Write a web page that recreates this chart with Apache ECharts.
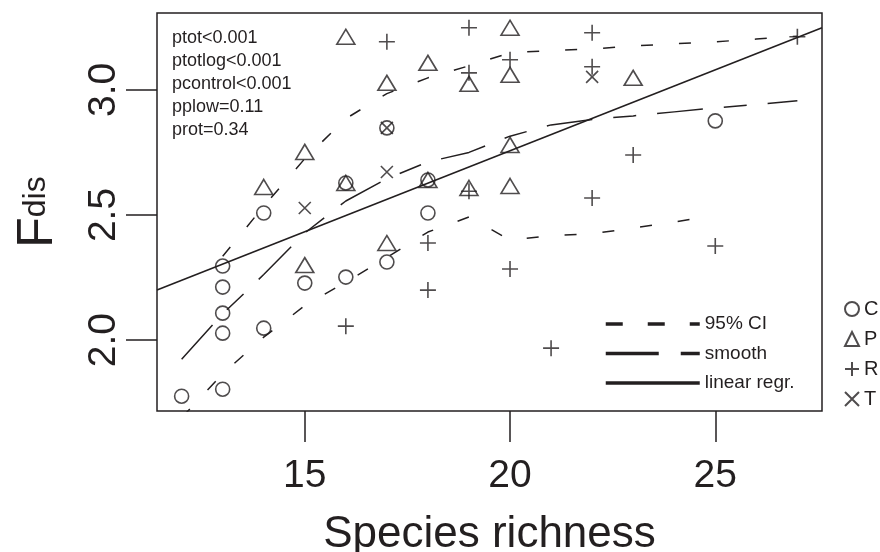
<!DOCTYPE html>
<html><head><meta charset="utf-8">
<script src="https://cdn.jsdelivr.net/npm/echarts@6/dist/echarts.min.js"></script>
<style>html,body{margin:0;padding:0;background:#fff}#c{width:880px;height:552px}</style>
</head><body><div id="c"></div>
<script>
const xTicks = [15, 20, 25];
const yTicks = [2.0, 2.5, 3.0];
const annLines = ['ptot<0.001', 'ptotlog<0.001', 'pcontrol<0.001', 'pplow=0.11', 'prot=0.34'];

const cX = [12, 13, 13, 13, 13, 13, 14, 14, 15, 16, 16, 17, 17, 18, 18, 25];
const cY = [1.776, 2.296, 2.212, 2.108, 2.028, 1.804, 2.508, 2.048, 2.228, 2.628, 2.252, 2.848, 2.312, 2.64, 2.508, 2.876];
const pX = [14, 15, 15, 16, 16, 17, 17, 18, 18, 19, 19, 20, 20, 20, 20, 23];
const pY = [2.612, 2.752, 2.30, 3.212, 2.628, 3.028, 2.388, 3.108, 2.64, 3.024, 2.608, 3.248, 3.06, 2.78, 2.616, 3.048];
const rX = [16, 17, 18, 18, 19, 19, 19, 20, 20, 21, 22, 22, 22, 23, 25, 27];
const rY = [2.056, 3.192, 2.388, 2.20, 3.248, 3.068, 2.595, 3.12, 2.284, 1.968, 3.228, 3.092, 2.568, 2.74, 2.376, 3.212];
const tX = [15, 17, 17, 22];
const tY = [2.528, 2.848, 2.672, 3.052];

const smX = [12, 13, 14, 15, 16, 17, 18, 19, 20, 21, 22, 23, 24, 25, 26, 27];
const smY = [1.924, 2.105, 2.262, 2.428, 2.556, 2.645, 2.712, 2.750, 2.815, 2.860, 2.882, 2.896, 2.912, 2.928, 2.942, 2.956];
const lowX = [12, 13, 14, 15, 16, 17, 18, 19, 20, 21, 22, 23, 24, 24.5];
const lowY = [1.69, 1.866, 2.012, 2.138, 2.232, 2.33, 2.432, 2.492, 2.40, 2.418, 2.425, 2.448, 2.472, 2.486];
const upX = [13, 14, 15, 16, 17, 18, 19, 20, 21, 22, 23, 24, 25, 26, 27];
const upY = [2.335, 2.535, 2.725, 2.885, 2.985, 3.048, 3.096, 3.148, 3.157, 3.163, 3.175, 3.184, 3.192, 3.203, 3.214];
const regX = [11.4, 27.6];
const regY = [2.20, 3.248];

const INK = '#231f20';
const FONT = '"Liberation Sans", Arial, Helvetica, sans-serif';
const zip = (a, b) => a.map((v, i) => [v, b[i]]);
const markStyle = { color: 'rgba(0,0,0,0)', borderColor: INK, borderWidth: 1.6 };

const chart = echarts.init(document.getElementById('c'));
chart.setOption({
  animation: false,
  backgroundColor: '#fff',
  textStyle: { fontFamily: FONT, color: INK },
  grid: { left: 157, right: 58, top: 13, bottom: 141, show: true, borderColor: INK, borderWidth: 1.5,
    backgroundColor: 'transparent', containLabel: false, outerBoundsMode: 'none' },
  xAxis: {
    type: 'value', min: 11.4, max: 27.6,
    axisLine: { show: false }, splitLine: { show: false },
    axisTick: { show: true, length: 31, lineStyle: { color: INK, width: 1.5 }, customValues: xTicks },
    axisLabel: { customValues: xTicks, fontSize: 39, margin: 46, color: INK, fontFamily: FONT },
    name: 'Species richness', nameLocation: 'middle', nameGap: 102,
    nameTextStyle: { fontSize: 44, color: INK, fontFamily: FONT }
  },
  yAxis: {
    type: 'value', min: 1.717, max: 3.307,
    axisLine: { show: false }, splitLine: { show: false },
    axisTick: { show: true, length: 31, lineStyle: { color: INK, width: 1.5 }, customValues: yTicks },
    axisLabel: { customValues: yTicks, rotate: 90, fontSize: 39, margin: 33, color: INK, fontFamily: FONT,
      formatter: v => Number(v).toFixed(1) },
    name: '{f|F}{d|dis}', nameLocation: 'middle', nameGap: 94,
    nameTextStyle: { color: INK, fontFamily: FONT,
      rich: { f: { fontSize: 50, fontFamily: FONT, color: INK }, d: { fontSize: 32, fontFamily: FONT, color: INK, padding: [0, 0, 4, 0] } } }
  },
  legend: [
    {
      data: [
        { name: '95% CI', lineStyle: { type: [17, 25], width: 3.5 } },
        { name: 'smooth', lineStyle: { type: [53, 22], width: 3.5 } },
        { name: 'linear regr.', lineStyle: { width: 3.5 } }
      ],
      orient: 'vertical', left: 599, top: 309, itemWidth: 94, itemHeight: 20, itemGap: 9.5,
      selectedMode: false, lineStyle: { width: 3.5 }, itemStyle: { opacity: 0 },
      textStyle: { fontSize: 19, lineHeight: 20, color: INK, fontFamily: FONT }
    },
    {
      data: ['C', 'P', 'R', 'T'],
      orient: 'vertical', left: 839, top: 294, itemWidth: 14, itemHeight: 14, itemGap: 10,
      selectedMode: false,
      textStyle: { fontSize: 20, lineHeight: 20, color: INK, fontFamily: FONT }
    }
  ],
  graphic: [{
    type: 'text', left: 172, top: 27,
    style: { text: annLines.join('\n'), font: '18px ' + FONT, lineHeight: 22.8, fill: INK }
  }],
  series: [
    { name: '95% CI', type: 'line', symbol: 'none', clip: true, data: zip(upX, upY), itemStyle: { color: INK },
      lineStyle: { color: INK, width: 1.5, type: [12, 26] } },
    { name: '95% CI', type: 'line', symbol: 'none', clip: true, data: zip(lowX, lowY), itemStyle: { color: INK },
      lineStyle: { color: INK, width: 1.5, type: [12, 26] } },
    { name: 'smooth', type: 'line', symbol: 'none', clip: true, data: zip(smX, smY), itemStyle: { color: INK },
      lineStyle: { color: INK, width: 1.5, type: [46, 21, 23, 21] } },
    { name: 'linear regr.', type: 'line', symbol: 'none', clip: true, data: zip(regX, regY), itemStyle: { color: INK },
      lineStyle: { color: INK, width: 1.6, type: 'solid' } },
    { name: 'C', type: 'scatter', symbol: 'circle', symbolSize: 14, data: zip(cX, cY), itemStyle: markStyle },
    { name: 'P', type: 'scatter', symbol: 'triangle', symbolSize: [18, 15], data: zip(pX, pY), itemStyle: markStyle },
    { name: 'R', type: 'scatter', symbol: 'path://M10,0L10,20M0,10L20,10', symbolSize: 16, data: zip(rX, rY), itemStyle: markStyle },
    { name: 'T', type: 'scatter', symbol: 'path://M0,0L20,20M0,20L20,0', symbolSize: 12, data: zip(tX, tY), itemStyle: markStyle }
  ]
});
</script>
</body></html>
